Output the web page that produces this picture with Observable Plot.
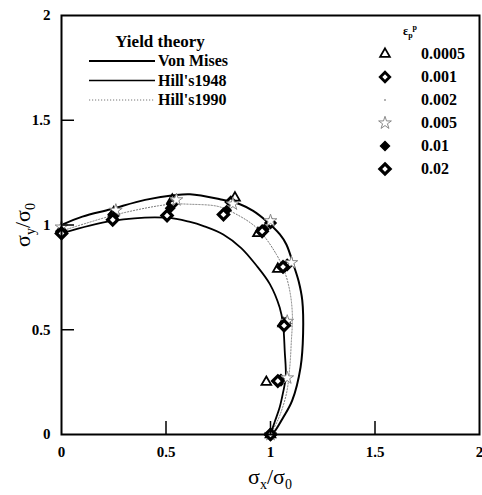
<!DOCTYPE html>
<html><head><meta charset="utf-8">
<script src="https://cdn.jsdelivr.net/npm/d3@7"></script>
<script src="https://cdn.jsdelivr.net/npm/@observablehq/plot@0.6"></script>
<style>
body{margin:0;background:#fff}
#wrap{position:relative;width:482px;height:495px;font-family:'Liberation Serif','DejaVu Serif',serif}
#wrap svg{position:absolute;left:0;top:0}
#wrap svg text{font-family:'Liberation Serif','DejaVu Serif',serif}
</style>
</head><body><div id="wrap"></div>
<script>
// ---- tick values ----
const xTicks = [0, 0.5, 1, 1.5, 2];
const yTicks = [0, 0.5, 1, 1.5, 2];

// ---- yield theory curves ----
const vonMisesX = [0, 0.1, 0.235, 0.4, 0.536, 0.615, 0.758, 0.854, 0.917, 0.981, 1.045, 1.076, 1.11, 1.135, 1.152, 1.156, 1.144, 1.104, 1.06, 1.016, 1.0];
const vonMisesY = [1.0, 1.04, 1.075, 1.12, 1.142, 1.147, 1.123, 1.099, 1.067, 1.018, 0.955, 0.907, 0.81, 0.73, 0.64, 0.482, 0.322, 0.163, 0.08, 0.01, 0];
const hill1948X = [0, 0.242, 0.505, 0.615, 0.68, 0.774, 0.86, 0.93, 0.997, 1.044, 1.06, 1.068, 1.073, 1.06, 1.044, 1.02, 1.0];
const hill1948Y = [0.96, 1.02, 1.035, 1.015, 0.995, 0.955, 0.89, 0.81, 0.718, 0.606, 0.527, 0.40, 0.273, 0.2, 0.13, 0.06, 0];
const hill1990X = [0, 0.267, 0.52, 0.615, 0.743, 0.806, 0.933, 1.028, 1.07, 1.095, 1.105, 1.1, 1.092, 1.076, 1.04, 1.0];
const hill1990Y = [0.971, 1.051, 1.099, 1.099, 1.09, 1.067, 0.987, 0.86, 0.77, 0.67, 0.56, 0.45, 0.32, 0.194, 0.08, 0];

// ---- experimental points per plastic strain level ----
const strainLabels = ["0.0005", "0.001", "0.002", "0.005", "0.01", "0.02"];
const e0005X = [0, 0.25, 0.53, 0.83, 0.94, 1.035, 1.06, 0.98, 1.0];
const e0005Y = [0.98, 1.06, 1.12, 1.13, 0.96, 0.79, 0.53, 0.25, 0];
const e001X = [0, 0.25, 0.53, 0.81, 1.0, 1.08, 1.07, 1.05, 1.0];
const e001Y = [0.97, 1.05, 1.10, 1.11, 1.01, 0.81, 0.53, 0.26, 0];
const e002X = [0, 0.25, 0.53, 0.80, 0.98, 1.09, 1.08, 1.07, 1.0];
const e002Y = [0.98, 1.07, 1.12, 1.09, 1.0, 0.80, 0.54, 0.26, 0];
const e005X = [0, 0.26, 0.55, 0.82, 1.0, 1.10, 1.08, 1.08, 1.0];
const e005Y = [0.99, 1.07, 1.12, 1.10, 1.02, 0.82, 0.54, 0.27, 0];
const e01X = [0, 0.25, 0.52, 0.79, 0.97, 1.07, 1.06, 1.04, 1.0];
const e01Y = [0.97, 1.04, 1.08, 1.07, 0.98, 0.80, 0.52, 0.26, 0];
const e02X = [0, 0.245, 0.505, 0.775, 0.96, 1.06, 1.065, 1.035, 1.0];
const e02Y = [0.96, 1.025, 1.045, 1.05, 0.97, 0.80, 0.52, 0.255, 0];

const zip = (xs, ys) => xs.map((x, i) => ({x, y: ys[i]}));

const styles = [
  {symbol: "triangle", fill: "white", stroke: "black", strokeWidth: 1.8, r: 3.6},
  {symbol: "diamond2", fill: "white", stroke: "black", strokeWidth: 2.8, r: 4.2},
  {symbol: "circle", fill: "#999", stroke: "none", strokeWidth: 0, r: 1},
  {symbol: "star", fill: "white", stroke: "#888", strokeWidth: 1, r: 4},
  {symbol: "diamond2", fill: "black", stroke: "black", strokeWidth: 1.5, r: 4},
  {symbol: "diamond2", fill: "white", stroke: "black", strokeWidth: 3.2, r: 4.6}
];
const series = [zip(e0005X, e0005Y), zip(e001X, e001Y), zip(e002X, e002Y), zip(e005X, e005Y), zip(e01X, e01Y), zip(e02X, e02Y)];

const W = 482, H = 495, mL = 61, mR = 3, mT = 15, mB = 61;
const innerW = W - mL - mR, innerH = H - mT - mB;
const serif = "'Liberation Serif', 'DejaVu Serif', serif";

const chart = Plot.plot({
  width: W, height: H,
  marginLeft: mL, marginRight: mR, marginTop: mT, marginBottom: mB,
  x: {domain: [0, 2]},
  y: {domain: [0, 2]},
  style: {fontFamily: serif, fontSize: "15px", fontWeight: "bold", color: "black", background: "white"},
  marks: [
    Plot.line(zip(hill1990X, hill1990Y), {x: "x", y: "y", stroke: "#777", strokeWidth: 1, strokeDasharray: "1.2,1.8", curve: "catmull-rom"}),
    Plot.line(zip(hill1948X, hill1948Y), {x: "x", y: "y", stroke: "black", strokeWidth: 1.8, curve: "catmull-rom"}),
    Plot.line(zip(vonMisesX, vonMisesY), {x: "x", y: "y", stroke: "black", strokeWidth: 2, curve: "catmull-rom"}),
    ...series.map((s, i) => Plot.dot(s, {x: "x", y: "y", ...styles[i]})),
    Plot.tickX(xTicks.slice(1, -1), {x: d => d, insetTop: innerH - 13, stroke: "black", strokeWidth: 1.5}),
    Plot.tickY(yTicks.slice(1, -1), {y: d => d, insetRight: innerW - 13, stroke: "black", strokeWidth: 1.5}),
    Plot.axisX(xTicks, {tickSize: 0, tickPadding: 12, label: null, tickFormat: d => String(d), fontWeight: "bold"}),
    Plot.axisY(yTicks, {tickSize: 0, tickPadding: 11, label: null, tickFormat: d => String(d), fontWeight: "bold"}),
    Plot.frame({stroke: "black", strokeWidth: 2})
  ]
});
document.getElementById("wrap").appendChild(chart);

// ---- overlay: axis titles and legends ----
const ov = d3.select("#wrap").append("svg")
  .attr("width", W).attr("height", H)
  .attr("font-family", serif).style("pointer-events", "none");

function sigmaLabel(g, sub) {
  g.append("tspan").text("σ");
  g.append("tspan").text(sub).attr("font-size", "14px").attr("dy", 5);
  g.append("tspan").text("/σ").attr("dy", -5);
  g.append("tspan").text("0").attr("font-size", "14px").attr("dy", 5);
}
const xl = ov.append("text").attr("x", 270).attr("y", 484).attr("text-anchor", "middle").attr("font-size", "22px");
sigmaLabel(xl, "x");
const yl = ov.append("text").attr("transform", "translate(30,225) rotate(-90)").attr("text-anchor", "middle").attr("font-size", "22px");
sigmaLabel(yl, "y");

// yield theory legend
const theoryNames = ["Von Mises", "Hill's1948", "Hill's1990"];
const theoryStyles = [
  {stroke: "black", w: 2, dash: null},
  {stroke: "black", w: 1.6, dash: null},
  {stroke: "#777", w: 1, dash: "1.2,1.8"}
];
ov.append("text").attr("x", 160).attr("y", 47).attr("text-anchor", "middle")
  .attr("font-size", "17px").attr("font-weight", "bold").text("Yield theory");
theoryNames.forEach((n, i) => {
  const yy = 61 + i * 19.5;
  const s = theoryStyles[i];
  ov.append("line").attr("x1", 89).attr("x2", 155).attr("y1", yy).attr("y2", yy)
    .attr("stroke", s.stroke).attr("stroke-width", s.w).attr("stroke-dasharray", s.dash);
  ov.append("text").attr("x", 158).attr("y", yy + 5).attr("font-size", "16px").attr("font-weight", "bold").text(n);
});

// strain legend
const hdr = ov.append("text").attr("x", 403).attr("y", 35).attr("font-size", "12px").attr("font-weight", "bold");
hdr.append("tspan").text("ε");
hdr.append("tspan").text("p").attr("font-size", "8px").attr("dy", 3);
hdr.append("tspan").text("p").attr("font-size", "8px").attr("dy", -8);
const symMap = {triangle: d3.symbolTriangle, diamond2: d3.symbolDiamond2, circle: d3.symbolCircle, star: d3.symbolStar};
strainLabels.forEach((lab, i) => {
  const yy = 54 + i * 23;
  const s = styles[i];
  ov.append("path").attr("transform", `translate(385,${yy})`)
    .attr("d", d3.symbol(symMap[s.symbol], Math.PI * s.r * s.r)())
    .attr("fill", s.fill).attr("stroke", s.stroke).attr("stroke-width", s.strokeWidth);
  ov.append("text").attr("x", 421).attr("y", yy + 5).attr("font-size", "16px").attr("font-weight", "bold").text(lab);
});
</script>
</body></html>
